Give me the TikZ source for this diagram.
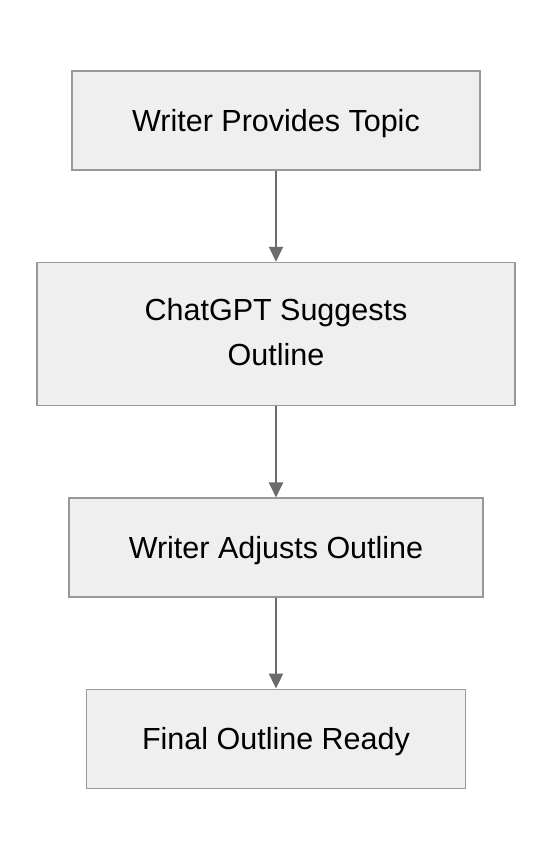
\documentclass[tikz,border=0pt]{standalone}
\usepackage{fontspec}
\setmainfont{Liberation Sans}
\usetikzlibrary{arrows.meta}
\definecolor{boxfill}{HTML}{EFEFEF}
\definecolor{boxline}{HTML}{999999}
\definecolor{arrowcol}{HTML}{6B6B6B}
\tikzset{
  flowbox/.style={draw=boxline, fill=boxfill, line width=1.5bp, rectangle,
    inner sep=0pt, align=center, text=black,
    font=\fontsize{30.5bp}{45bp}\selectfont, text height=22bp, text depth=0pt},
  flowarrow/.style={draw=arrowcol, line width=2bp,
    -{Triangle[length=15bp,width=14bp]}}
}
\begin{document}
\begin{tikzpicture}[x=1bp,y=-1bp]
\useasboundingbox[fill=white] (0,0) rectangle (552,860);
\node[flowbox, minimum width=408bp, minimum height=99bp] (a) at (276,120.5) {Writer Provides Topic};
\node[flowbox, minimum width=478bp, minimum height=143bp, text height=67bp, text depth=5bp] (b) at (276,334) {ChatGPT Suggests\\Outline};
\node[flowbox, minimum width=413.5bp, minimum height=99bp] (c) at (276,547.7) {Writer Adjusts Outline};
\node[flowbox, minimum width=378.5bp, minimum height=99bp] (d) at (276,738.8) {Final Outline Ready};
\draw[flowarrow] (a) -- (b);
\draw[flowarrow] (b) -- (c);
\draw[flowarrow] (c) -- (d);
\end{tikzpicture}
\end{document}
